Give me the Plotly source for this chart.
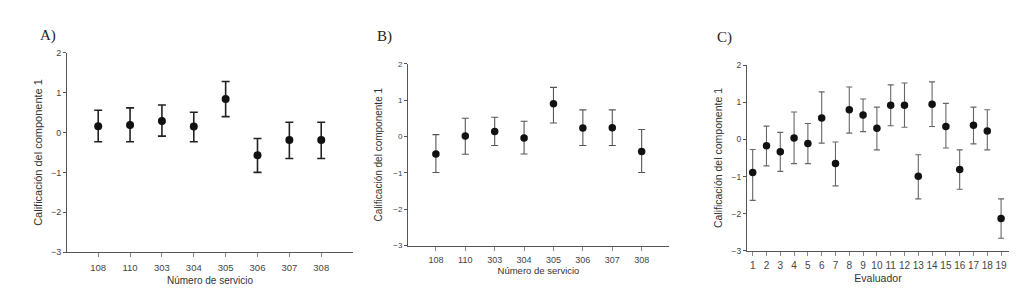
import plotly.graph_objects as go

# Panel A
servicios = ["108", "110", "303", "304", "305", "306", "307", "308"]
a_mean = [0.16, 0.19, 0.29, 0.15, 0.84, -0.57, -0.19, -0.19]
a_upper = [0.56, 0.62, 0.69, 0.51, 1.28, -0.15, 0.26, 0.26]
a_lower = [-0.23, -0.23, -0.09, -0.23, 0.40, -1.00, -0.65, -0.65]

# Panel B
b_mean = [-0.48, 0.01, 0.14, -0.04, 0.90, 0.23, 0.24, -0.41]
b_upper = [0.05, 0.50, 0.53, 0.42, 1.35, 0.73, 0.73, 0.19]
b_lower = [-0.99, -0.49, -0.25, -0.48, 0.37, -0.25, -0.25, -0.99]

# Panel C
evaluadores = list(range(1, 20))
c_mean = [-0.89, -0.17, -0.33, 0.04, -0.11, 0.58, -0.65, 0.80, 0.66, 0.30,
          0.92, 0.92, -0.99, 0.95, 0.35, -0.81, 0.38, 0.23, -2.13]
c_upper = [-0.27, 0.36, 0.19, 0.74, 0.43, 1.28, -0.07, 1.41, 1.09, 0.87,
           1.47, 1.52, -0.41, 1.55, 0.97, -0.28, 0.87, 0.80, -1.60]
c_lower = [-1.64, -0.71, -0.86, -0.65, -0.65, -0.10, -1.25, 0.17, 0.21, -0.28,
           0.37, 0.33, -1.60, 0.35, -0.23, -1.34, -0.12, -0.28, -2.66]

y_ticks = [-3, -2, -1, 0, 1, 2]
y_title = "Calificación del componente 1"

fig = go.Figure()


def add_panel(xvals, mean, upper, lower, xa, ya, ecolor, ethick, ewidth, msize):
    fig.add_trace(go.Scatter(
        x=xvals, y=mean, mode="markers",
        marker=dict(color="#111111", size=msize),
        error_y=dict(type="data", symmetric=False,
                     array=[u - m for u, m in zip(upper, mean)],
                     arrayminus=[m - l for m, l in zip(mean, lower)],
                     color=ecolor, thickness=ethick, width=ewidth),
        xaxis=xa, yaxis=ya, showlegend=False, cliponaxis=False))


add_panel(list(range(len(servicios))), a_mean, a_upper, a_lower, "x", "y", "#222222", 1.6, 4, 8)
add_panel(list(range(len(servicios))), b_mean, b_upper, b_lower, "x2", "y2", "#555555", 1.1, 3.5, 7.5)
add_panel(evaluadores, c_mean, c_upper, c_lower, "x3", "y3", "#666666", 1.1, 3, 7.5)

font_fam = "Liberation Sans, Arial, sans-serif"
axcol = "#555555"

common_x = dict(showline=True, linecolor=axcol, linewidth=1, ticks="outside",
                ticklen=4, tickcolor="#888888", showgrid=False, zeroline=False,
                tickangle=0,
                tickfont=dict(family=font_fam, color="#444444"))
common_y = dict(showline=True, linecolor=axcol, linewidth=1, ticks="outside",
                ticklen=3, tickcolor=axcol, showgrid=False, zeroline=False,
                range=[-3, 2], tickvals=y_ticks, tickformat="d",
                tickfont=dict(family=font_fam, color="#444444"))

fig.update_layout(
    width=1024, height=303,
    margin=dict(l=0, r=0, t=0, b=0),
    paper_bgcolor="white", plot_bgcolor="white",
    xaxis=dict(common_x, domain=[0.0576, 0.337], range=[-0.98, 8.0],
               tickvals=list(range(len(servicios))), ticktext=servicios,
               ticklabelstandoff=3,
               tickfont=dict(family=font_fam, color="#444444", size=9.5),
               title=dict(text="Número de servicio", standoff=4,
                          font=dict(family=font_fam, size=10, color="#333333")),
               anchor="y"),
    yaxis=dict(common_y, domain=[0.184, 0.864], anchor="x",
               tickfont=dict(family=font_fam, color="#444444", size=9),
               title=dict(text=y_title, standoff=6,
                          font=dict(family=font_fam, size=11, color="#333333"))),
    xaxis2=dict(common_x, domain=[0.3906, 0.6455], range=[-0.95, 7.93],
                tickvals=list(range(len(servicios))), ticktext=servicios,
                ticklabelstandoff=2,
                tickfont=dict(family=font_fam, color="#444444", size=9),
                title=dict(text="Número de servicio", standoff=2,
                           font=dict(family=font_fam, size=9.5, color="#333333")),
                anchor="y2"),
    yaxis2=dict(common_y, domain=[0.206, 0.827], anchor="x2",
                tickfont=dict(family=font_fam, color="#444444", size=8),
                title=dict(text=y_title, standoff=8,
                           font=dict(family=font_fam, size=10, color="#333333"))),
    xaxis3=dict(common_x, domain=[0.7217, 0.9775], range=[0.59, 19.57],
                tickvals=evaluadores, ticktext=[str(v) for v in evaluadores],
                ticklabelstandoff=1,
                tickfont=dict(family=font_fam, color="#444444", size=10),
                title=dict(text="Evaluador", standoff=4,
                           font=dict(family=font_fam, size=10.5, color="#333333")),
                anchor="y3"),
    yaxis3=dict(common_y, domain=[0.188, 0.822], anchor="x3",
                tickfont=dict(family=font_fam, color="#444444", size=8.5),
                title=dict(text=y_title, standoff=6,
                           font=dict(family=font_fam, size=10.5, color="#333333"))),
)

labels = [("A)", 30, 23), ("B)", 367, 24), ("C)", 707, 25)]
for text, px, py in labels:
    fig.add_annotation(text=text, x=px / 1024, y=1 - py / 303, xref="paper", yref="paper",
                       xanchor="left", yanchor="middle", showarrow=False,
                       font=dict(family="Liberation Serif, DejaVu Serif, serif", size=15, color="#222222"))

fig.write_html("out.html")
